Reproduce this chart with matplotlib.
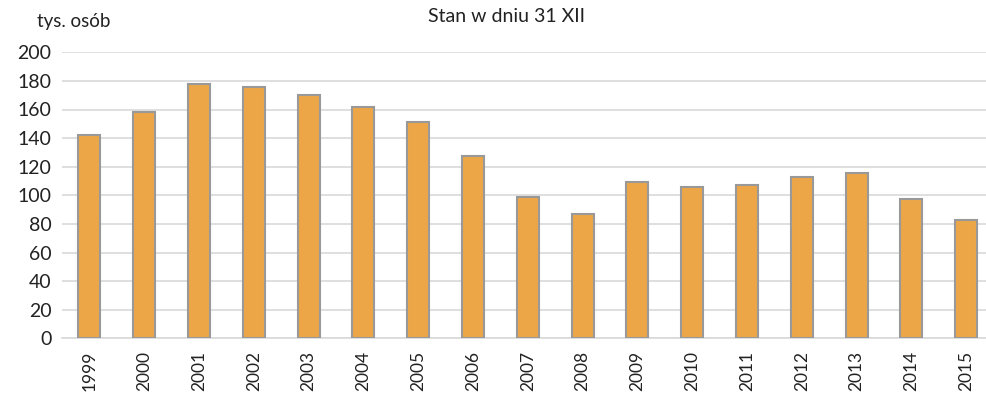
import matplotlib.pyplot as plt

years = ['1999', '2000', '2001', '2002', '2003', '2004', '2005', '2006', '2007',
         '2008', '2009', '2010', '2011', '2012', '2013', '2014', '2015']
values = [142, 158, 178, 176, 170, 162, 151, 127.5, 98.5,
          87, 109, 105.5, 107, 113, 115.5, 97.5, 83]
y_ticks = list(range(0, 201, 20))

plt.rcParams['font.family'] = ['Lato', 'DejaVu Sans']

fig = plt.figure(figsize=(9.87, 3.94), dpi=100)
# plot area runs past the right edge, like the cropped original
ax = fig.add_axes([62 / 987, 55.7 / 394, 931.6 / 987, 286 / 394])

x = range(len(years))
ax.bar(x, values, width=0.4, color='#EDA647', edgecolor='#999999',
       linewidth=1.5, zorder=3)

ax.set_xlim(-0.5, len(years) - 0.5)
ax.set_ylim(0, 200)
ax.set_yticks(y_ticks)
ax.set_xticks(list(x))
ax.set_xticklabels(years, rotation=90)
ax.tick_params(axis='both', length=0, colors='#222222')
ax.tick_params(axis='y', pad=7.5, labelsize=14)
ax.tick_params(axis='x', pad=9, labelsize=12.5)

ax.grid(axis='y', color='#d9d9d9', linewidth=1.2, zorder=0)
for side in ['top', 'right', 'left']:
    ax.spines[side].set_visible(False)
ax.spines['bottom'].set_color('#d9d9d9')
ax.spines['bottom'].set_linewidth(1.2)

fig.text(37 / 987, 1 - 22 / 394, 'tys. osób', fontsize=13.5, color='#222222',
         ha='left', va='center')
fig.text(507 / 987, 1 - 17 / 394, 'Stan w dniu 31 XII', fontsize=14,
         color='#222222', ha='center', va='center')

fig.savefig('out.png', dpi=100)
